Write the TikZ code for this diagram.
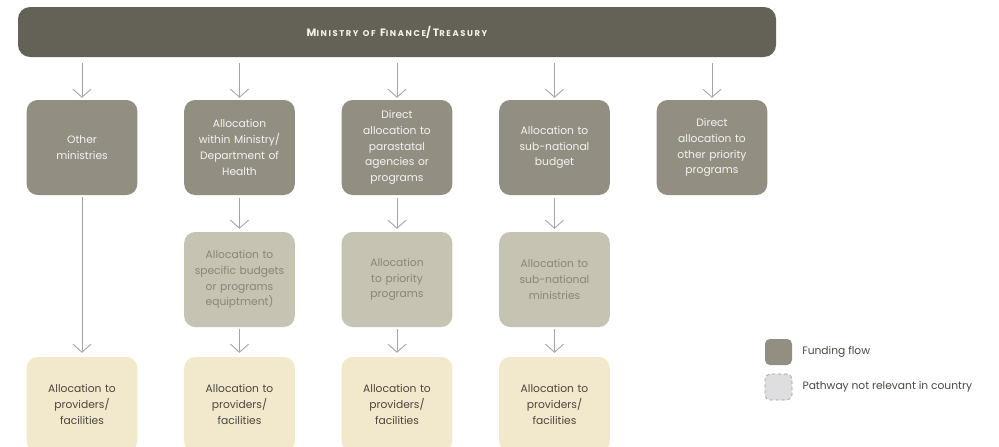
\documentclass[tikz,border=0pt]{standalone}
\usepackage{fontspec}
\setmainfont{Poppins}
\usetikzlibrary{arrows.meta, positioning}
\definecolor{barfill}{HTML}{646157}
\definecolor{flowfill}{HTML}{928E82}
\definecolor{subfill}{HTML}{C6C3B3}
\definecolor{provfill}{HTML}{F2E8CC}
\definecolor{arrowgray}{HTML}{A4A4AC}
\definecolor{subtext}{HTML}{88857A}
\definecolor{provtext}{HTML}{4A463F}
\definecolor{skipfill}{HTML}{DEDEE0}
\definecolor{skipline}{HTML}{9C9CA2}
\newcommand{\boxfont}{\fontsize{10.7}{15.8}\selectfont}
\newcommand{\lowcap}[1]{{\fontsize{8.4}{9}\selectfont #1}}
\tikzstyle{arrow} = [draw=arrowgray, line width=0.9pt, -{Straight Barb[length=8pt,width=18pt]}, shorten <=3pt, shorten >=3pt]
\tikzstyle{topbar} = [
    rectangle, rounded corners=12pt, minimum width=758pt, minimum height=50pt,
    fill=barfill, text=white!92!barfill,
    font=\fontsize{10.7}{11}\selectfont\bfseries\addfontfeature{LetterSpace=19}
]
\tikzstyle{flowbox} = [
    rectangle, rounded corners=11pt, minimum width=110pt, minimum height=95pt,
    text width=104pt, align=center, fill=flowfill, text=white!90!flowfill, font=\boxfont
]
\tikzstyle{subbox} = [flowbox, fill=subfill, text=subtext]
\tikzstyle{provbox} = [flowbox, fill=provfill, text=provtext]
\tikzstyle{legendbox} = [
    rectangle, rounded corners=5pt, minimum width=27pt, minimum height=26pt,
    fill=flowfill
]
\tikzstyle{legendtext} = [text=provtext, font=\boxfont, inner sep=0pt]

\begin{document}
\begin{tikzpicture}[x=1pt, y=-1pt, node distance=157.5pt]
\useasboundingbox (0,0) rectangle (999,447);

% Topo
\node (MoF) [topbar] at (397,32) {M\lowcap{INISTRY} \lowcap{OF} F\lowcap{INANCE}/T\lowcap{REASURY}};

% Primeira linha
\node (Other) [flowbox] at (82,147.5) {Other\\ministries};
\node (MoH) [flowbox, right of=Other] {Allocation\\within Ministry/\\Department of\\Health};
\node (Para) [flowbox, right of=MoH] {Direct\\allocation to\\parastatal\\agencies or\\programs};
\node (SubNat) [flowbox, right of=Para] {Allocation to\\sub-national\\budget};
\node (OtherPrio) [flowbox, right of=SubNat] {Direct\\allocation to\\other priority\\programs};

% Segunda linha
\node (Spec) [subbox, below of=MoH, node distance=132pt] {Allocation to\\specific budgets\\or programs\\equiptment)};
\node (PrioProg) [subbox, below of=Para, node distance=132pt] {Allocation\\to priority\\programs};
\node (SubMin) [subbox, below of=SubNat, node distance=132pt] {Allocation to\\sub-national\\ministries};

% Prestadores
\node (Prov_1) [provbox, below of=Other, node distance=257pt] {Allocation to\\providers/\\facilities};
\node (Prov_2) [provbox, below of=Spec, node distance=125pt] {Allocation to\\providers/\\facilities};
\node (Prov_3) [provbox, below of=PrioProg, node distance=125pt] {Allocation to\\providers/\\facilities};
\node (Prov_4) [provbox, below of=SubMin, node distance=125pt] {Allocation to\\providers/\\facilities};

% Legenda
\node (LegFlow) [legendbox] at (778.5,352) {};
\node (LegSkip) [legendbox, below of=LegFlow, node distance=35pt, fill=skipfill, draw=skipline, dashed, line width=0.7pt] {};
\node (LegFlowText) [legendtext, right=10pt of LegFlow] {Funding flow};
\node (LegSkipText) [legendtext, right=10pt of LegSkip] {Pathway not relevant in country};

% Connections
\draw [arrow, shorten <=6pt, shorten >=2pt] (MoF.south -| Other) -- (Other);
\draw [arrow, shorten <=6pt, shorten >=2pt] (MoF.south -| MoH) -- (MoH);
\draw [arrow, shorten <=6pt, shorten >=2pt] (MoF.south -| Para) -- (Para);
\draw [arrow, shorten <=6pt, shorten >=2pt] (MoF.south -| SubNat) -- (SubNat);
\draw [arrow, shorten <=6pt, shorten >=2pt] (MoF.south -| OtherPrio) -- (OtherPrio);

\draw [arrow] (MoH) -- (Spec);
\draw [arrow] (Para) -- (PrioProg);
\draw [arrow] (SubNat) -- (SubMin);

\draw [arrow, shorten <=2pt, shorten >=4pt] (Other) -- (Prov_1);
\draw [arrow, shorten <=2pt, shorten >=4pt] (Spec) -- (Prov_2);
\draw [arrow, shorten <=2pt, shorten >=4pt] (PrioProg) -- (Prov_3);
\draw [arrow, shorten <=2pt, shorten >=4pt] (SubMin) -- (Prov_4);

\end{tikzpicture}
\end{document}
